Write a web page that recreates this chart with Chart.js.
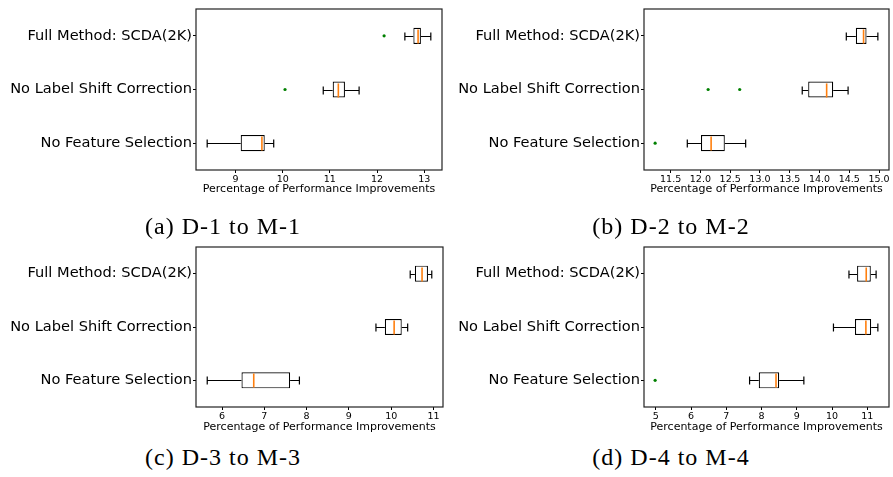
<!DOCTYPE html>
<html><head><meta charset="utf-8">
<script src="https://cdn.jsdelivr.net/npm/chart.js@4/dist/chart.umd.min.js"></script>
<style>
html,body{margin:0;padding:0;background:#fff;}
body{width:893px;height:477px;position:relative;overflow:hidden;}
.panel{position:absolute;height:200px;}
.cap{position:absolute;width:446px;text-align:center;font-family:'Liberation Serif',serif;font-size:24px;letter-spacing:1px;line-height:30px;color:#000;white-space:nowrap;}
</style></head><body>
<div class="panel" id="p0" style="left:0;top:0;width:446px"><canvas id="c0" width="446" height="200"></canvas></div>
<div class="panel" id="p1" style="left:448px;top:0;width:445px"><canvas id="c1" width="445" height="200"></canvas></div>
<div class="panel" id="p2" style="left:0;top:238px;width:446px"><canvas id="c2" width="446" height="200"></canvas></div>
<div class="panel" id="p3" style="left:448px;top:238px;width:445px"><canvas id="c3" width="445" height="200"></canvas></div>
<div class="cap" id="cap0" style="left:0;top:211px"></div>
<div class="cap" id="cap1" style="left:448px;top:211px"></div>
<div class="cap" id="cap2" style="left:0;top:442px"></div>
<div class="cap" id="cap3" style="left:448px;top:442px"></div>
<script>
// Categories (position 1 = bottom)
const categories = ['No Feature Selection', 'No Label Shift Correction', 'Full Method: SCDA(2K)'];
const captions = ['(a) D-1 to M-1', '(b) D-2 to M-2', '(c) D-3 to M-3', '(d) D-4 to M-4'];
const xTitle = 'Percentage of Performance Improvements';

// Box statistics per panel, in category order
const whiskerLow  = [[8.40, 10.86, 12.59], [11.78, 13.71, 14.45], [5.65, 9.64, 10.45], [7.66, 10.04, 10.48]];
const quartile1   = [[9.11, 11.06, 12.77], [12.01, 13.81, 14.61], [6.46, 9.85, 10.56], [7.92, 10.65, 10.71]];
const medians     = [[9.56, 11.18, 12.87], [12.18, 14.12, 14.74], [6.75, 10.07, 10.73], [8.41, 10.96, 10.97]];
const quartile3   = [[9.62, 11.32, 12.93], [12.41, 14.23, 14.79], [7.61, 10.25, 10.87], [8.50, 11.11, 11.10]];
const whiskerHigh = [[9.81, 11.62, 13.14], [12.76, 14.48, 14.98], [7.83, 10.39, 10.96], [9.20, 11.30, 11.25]];
const outliers    = [[[], [10.05], [12.15]], [[11.24], [12.13, 12.66], []], [[], [], []], [[4.98], [], []]];

// Tick values and labels
const xTickValues = [[9, 10, 11, 12, 13], [11.5, 12.0, 12.5, 13.0, 13.5, 14.0, 14.5, 15.0], [6, 7, 8, 9, 10, 11], [5, 6, 7, 8, 9, 10, 11]];
const xTickLabels = [['9', '10', '11', '12', '13'], ['11.5', '12.0', '12.5', '13.0', '13.5', '14.0', '14.5', '15.0'], ['6', '7', '8', '9', '10', '11'], ['5', '6', '7', '8', '9', '10', '11']];

const BOX_W = 0.3; // box width in category units

function makeChart(i) {
  const all = [].concat(whiskerLow[i], whiskerHigh[i], ...outliers[i]);
  const lo = Math.min(...all), hi = Math.max(...all);
  const m = (hi - lo) * 0.05;
  const right = (i % 2 === 0) ? 3 : 1;
  const xh = (i < 2) ? 30 : 31;

  const boxData = categories.map((c, k) => ({ y: k + 1, x: [quartile1[i][k], quartile3[i][k]] }));
  const outData = [];
  outliers[i].forEach((arr, k) => arr.forEach(v => outData.push({ x: v, y: k + 1 })));

  const parts = {
    id: 'boxparts' + i,
    afterDatasetsDraw(chart) {
      const ctx = chart.ctx, xs = chart.scales.x, ys = chart.scales.y;
      ctx.save();
      categories.forEach((c, k) => {
        const y = Math.round(ys.getPixelForValue(k + 1));
        const capH = Math.abs(ys.getPixelForValue(k + 1 + BOX_W / 4) - ys.getPixelForValue(k + 1));
        const boxH = Math.abs(ys.getPixelForValue(k + 1 + BOX_W / 2) - ys.getPixelForValue(k + 1));
        const pl = xs.getPixelForValue(whiskerLow[i][k]);
        const p1 = xs.getPixelForValue(quartile1[i][k]);
        const p3 = xs.getPixelForValue(quartile3[i][k]);
        const ph = xs.getPixelForValue(whiskerHigh[i][k]);
        const pm = xs.getPixelForValue(medians[i][k]);
        ctx.strokeStyle = '#000';
        ctx.lineWidth = 1.2;
        ctx.beginPath();
        ctx.moveTo(pl, y + 0.5); ctx.lineTo(p1, y + 0.5);
        ctx.moveTo(p3, y + 0.5); ctx.lineTo(ph, y + 0.5);
        ctx.moveTo(pl, y + 0.5 - capH); ctx.lineTo(pl, y + 0.5 + capH);
        ctx.moveTo(ph, y + 0.5 - capH); ctx.lineTo(ph, y + 0.5 + capH);
        ctx.stroke();
        ctx.strokeStyle = '#ff7f0e';
        ctx.lineWidth = 1.6;
        ctx.beginPath();
        ctx.moveTo(pm, y + 0.5 - boxH + 1); ctx.lineTo(pm, y + 0.5 + boxH - 1);
        ctx.stroke();
      });
      const a = chart.chartArea;
      ctx.strokeStyle = '#222';
      ctx.lineWidth = 1.2;
      ctx.strokeRect(a.left, a.top, a.right - a.left, a.bottom - a.top);
      ctx.restore();
    }
  };

  const gridOpts = { display: true, offset: false, drawOnChartArea: false, drawTicks: true, tickLength: 3, tickColor: '#000', tickWidth: 1 };

  new Chart(document.getElementById('c' + i), {
    data: {
      datasets: [
        { type: 'bar', indexAxis: 'y', data: boxData, backgroundColor: '#fff', borderColor: '#000', borderWidth: 1.2,
          borderSkipped: false, barPercentage: BOX_W, categoryPercentage: 1 },
        { type: 'scatter', data: outData, pointRadius: 1.6, pointBackgroundColor: '#008000', pointBorderWidth: 0 }
      ]
    },
    options: {
      indexAxis: 'y',
      responsive: false,
      animation: false,
      events: [],
      layout: { padding: { top: 9, right: right, left: 0, bottom: 0 } },
      plugins: { legend: { display: false }, tooltip: { enabled: false } },
      scales: {
        x: {
          type: 'linear', position: 'bottom', min: lo - m, max: hi + m, offset: false,
          afterBuildTicks: s => { s.ticks = xTickValues[i].map(v => ({ value: v })); },
          ticks: { callback: (v, idx) => xTickLabels[i][idx], font: { family: 'DejaVu Sans', size: 9.5 }, color: '#000',
                   padding: 1, maxRotation: 0, autoSkip: false },
          grid: gridOpts, border: { display: false },
          title: { display: true, text: xTitle, font: { family: 'DejaVu Sans', size: 11 }, color: '#000', padding: { top: 0, bottom: 4 } },
          afterFit: s => { s.height = xh; s.paddingLeft = 0; s.paddingRight = 0; }
        },
        y: {
          type: 'linear', position: 'left', min: 0.5, max: 3.5, offset: false,
          afterBuildTicks: s => { s.ticks = categories.map((c, k) => ({ value: k + 1 })); },
          ticks: { callback: (v) => categories[Math.round(v) - 1], font: { family: 'DejaVu Sans', size: 14.6 }, color: '#000', padding: 1, autoSkip: false },
          grid: gridOpts, border: { display: false },
          afterFit: s => { s.width = 196; s.paddingTop = 0; s.paddingBottom = 0; }
        }
      }
    },
    plugins: [parts]
  });
  document.getElementById('cap' + i).textContent = captions[i];
}
for (let i = 0; i < 4; i++) makeChart(i);
</script>
</body></html>
